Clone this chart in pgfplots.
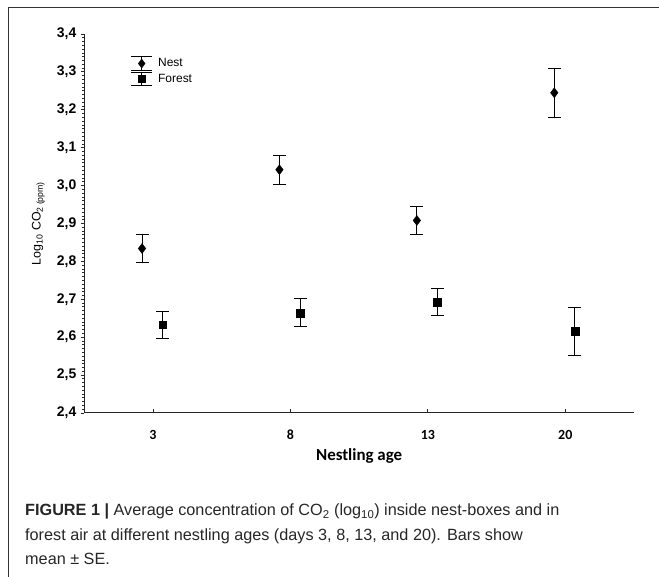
\documentclass[border=0pt]{standalone}
\usepackage{fontspec}
\setmainfont{Liberation Sans}
\newfontfamily\carlito{Carlito}
\usepackage{pgfplots}
\pgfplotsset{compat=1.18}

\begin{document}
\begin{tikzpicture}
\path[use as bounding box] (0bp,0bp) rectangle (659bp,577bp);
% frame of the figure panel
\draw[black!80, line width=1bp] (8bp,0bp) -- (8bp,569.5bp) -- (659bp,569.5bp);

\begin{axis}[
  at={(84.3bp,164bp)}, anchor=south west,
  scale only axis, width=549.7bp, height=379bp,
  xmin=-0.5, xmax=3.5, ymin=2.4, ymax=3.4,
  axis x line*=bottom, axis y line*=left,
  axis line style={-, line width=1bp, black!85},
  xtick={0,1,2,3}, xticklabels={3,8,13,20},
  ytick={2.4,2.5,2.6,2.7,2.8,2.9,3.0,3.1,3.2,3.3,3.4},
  minor y tick num=9,
  tick align=outside,
  major tick length=3.5bp, minor tick length=2.5bp,
  tick style={black!85, line width=0.8bp},
  x tick style={yshift=3.5bp},
  xticklabel style={font=\carlito\bfseries\fontsize{14}{14}\selectfont, anchor=center, yshift=-18bp},
  yticklabel style={font=\bfseries\fontsize{14}{14}\selectfont, anchor=east, xshift=-1bp,
    /pgf/number format/.cd, fixed, fixed zerofill, precision=1, use comma, assume math mode=true},
  xlabel={Nestling age},
  xlabel style={font=\carlito\bfseries\fontsize{17}{17}\selectfont, at={(axis description cs:0.5,0)}, anchor=center, yshift=-43bp},
  ylabel={Log\textsubscript{10} CO\textsubscript{2 (ppm)}},
  ylabel style={font=\fontsize{12.5}{12.5}\selectfont, at={(axis description cs:0,0.5)}, anchor=center, yshift=46bp},
  legend style={draw=none, fill=none, at={(0.084,0.903)}, anchor=west, inner sep=0pt,
    row sep=1bp, column sep=5bp, nodes={inner sep=0.5bp, font=\fontsize{12}{12}\selectfont}},
  legend cell align=left,
  clip=false,
]

\addplot[only marks, black, mark=diamond*, mark size=5bp,
  error bars/.cd, y dir=both, y explicit,
  error mark options={rotate=90, mark size=6.5bp, line width=1bp, black},
  error bar style={line width=1bp, black},
  /pgfplots/legend image code/.code={
    \draw[black, line width=1bp] (10.5bp,-7.2bp) -- (10.5bp,7.2bp);
    \draw[black, line width=1bp] (0bp,-7.2bp) -- (21bp,-7.2bp) (0bp,7.2bp) -- (21bp,7.2bp);
    \draw[black, mark=diamond*, mark size=4.5bp] plot coordinates {(10.5bp,0bp)};
  }]
coordinates {
  (-0.08,2.834) +- (0,0.037)
  (0.92,3.042)  +- (0,0.038)
  (1.92,2.908)  +- (0,0.037)
  (2.92,3.245)  +- (0,0.065)
};
\addlegendentry{Nest}

\addplot[only marks, black, mark=square*, mark size=3.8bp,
  error bars/.cd, y dir=both, y explicit,
  error mark options={rotate=90, mark size=6.5bp, line width=1bp, black},
  error bar style={line width=1bp, black},
  /pgfplots/legend image code/.code={
    \draw[black, line width=1bp] (10.5bp,-6.2bp) -- (10.5bp,6.2bp);
    \draw[black, line width=1bp] (0bp,-6.2bp) -- (21bp,-6.2bp) (0bp,6.2bp) -- (21bp,6.2bp);
    \draw[black, mark=square*, mark size=3.7bp] plot coordinates {(10.5bp,0bp)};
  }]
coordinates {
  (0.07,2.633) +- (0,0.036)
  (1.07,2.664) +- (0,0.037)
  (2.07,2.693) +- (0,0.036)
  (3.07,2.616) +- (0,0.063)
};
\addlegendentry{Forest}
\end{axis}

\begin{scope}[every node/.style={anchor=base west, inner sep=0pt, text=black!85, font=\fontsize{16.3}{18}\selectfont}]
\node at (25bp,61bp) {\textbf{FIGURE 1 |} Average concentration of CO\textsubscript{2} (log\textsubscript{10}) inside nest-boxes and in};
\node at (25bp,36.5bp) {forest air at different nestling ages (days 3, 8, 13, and 20). Bars show};
\node at (25bp,13bp) {mean ± SE.};
\end{scope}
\end{tikzpicture}
\end{document}
